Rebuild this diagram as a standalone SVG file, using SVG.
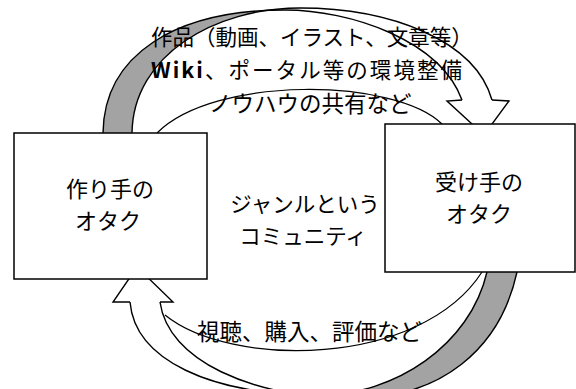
<svg xmlns="http://www.w3.org/2000/svg" width="576" height="389" viewBox="0 0 576 389">
<style>
.box{fill:#fff;stroke:#000;stroke-width:1.5}
.ln{fill:none;stroke:#000;stroke-width:1.4;stroke-linejoin:miter}
.thin{fill:none;stroke:#000;stroke-width:1.2}
.shade{fill:#a3a3a3;stroke:none}
.band{fill:#fff;stroke:none}
text{font-family:"Noto Sans CJK JP","Noto Sans CJK SC",sans-serif;fill:#000}
</style>
<defs>
<clipPath id="clipTopL"><rect x="0" y="0" width="262" height="200"/></clipPath>
<clipPath id="clipTopR"><rect x="262" y="0" width="314" height="200"/></clipPath>
<clipPath id="clipBotR"><rect x="330" y="200" width="246" height="200"/></clipPath>
<clipPath id="clipBotL"><rect x="0" y="200" width="330" height="200"/></clipPath>
</defs>
<g id="connectors">
  <g id="top-arrow">
    <path class="shade" clip-path="url(#clipTopL)" d="M103,133 C104,55 175,10 285,10 C350,10 440,40 462,100 L492,100 C475,40 390,8 300,8 C215,8 133,55 132,133 Z"/>
    <path class="band" clip-path="url(#clipTopR)" d="M103,133 C104,55 175,10 285,10 C350,10 440,40 462,100 L492,100 C475,40 390,8 300,8 C215,8 133,55 132,133 Z"/>
    <polygon class="band" points="462,100 447,101 484,135 509,101 492,100"/>
    <path class="ln" d="M103,133 C104,55 175,10 285,10 C350,10 440,40 462,100"/>
    <path class="ln" d="M132,133 C133,55 215,8 300,8 C390,8 475,40 492,100"/>
    <polyline class="ln" points="462,100 447,101 484,135 509,101 492,100"/>
    <path class="thin" d="M157,133 C215,75 395,78 442,124"/>
  </g>
  <g id="bottom-arrow">
    <path class="shade" clip-path="url(#clipBotR)" d="M130,302 C135,360 210,395 320,395 C395,395 470,345 487,272 L517,272 C500,350 440,398 355,398 C250,398 168,360 160,302 Z"/>
    <path class="band" clip-path="url(#clipBotL)" d="M130,302 C135,360 210,395 320,395 C395,395 470,345 487,272 L517,272 C500,350 440,398 355,398 C250,398 168,360 160,302 Z"/>
    <polygon class="band" points="130,302 113,302 137,267 173,302 160,302"/>
    <path class="ln" d="M130,302 C135,360 210,395 320,395 C395,395 470,345 487,272"/>
    <path class="ln" d="M160,302 C168,360 250,398 355,398 C440,398 500,350 517,272"/>
    <polyline class="ln" points="130,302 113,302 137,267 173,302 160,302"/>
    <path class="thin" d="M165,315 C230,368 420,368 482,272"/>
  </g>
</g>
<g id="creator">
  <rect class="box" x="14" y="133" width="193" height="146"/>
  <text x="110" y="197" font-size="22" text-anchor="middle">作り手の</text>
  <text x="108" y="229" font-size="22" text-anchor="middle">オタク</text>
</g>
<g id="receiver">
  <rect class="box" x="385" y="124" width="190" height="148"/>
  <text x="479" y="190" font-size="22" text-anchor="middle">受け手の</text>
  <text x="479" y="222" font-size="22" text-anchor="middle">オタク</text>
</g>
<g id="labels">
  <text x="151" y="44.5" font-size="21.5">作品（動画、イラスト、文章等）</text>
  <text x="151" y="78" font-size="21.5" textLength="311" lengthAdjust="spacing"><tspan font-weight="bold">Wiki</tspan>、ポータル等の環境整備</text>
  <text x="209" y="111.5" font-size="22.5">ノウハウの共有など</text>
  <text x="305" y="212" font-size="21.5" text-anchor="middle">ジャンルという</text>
  <text x="303" y="244" font-size="21.5" text-anchor="middle">コミュニティ</text>
  <text x="197" y="340" font-size="22.5">視聴、購入、評価など</text>
</g>
</svg>
